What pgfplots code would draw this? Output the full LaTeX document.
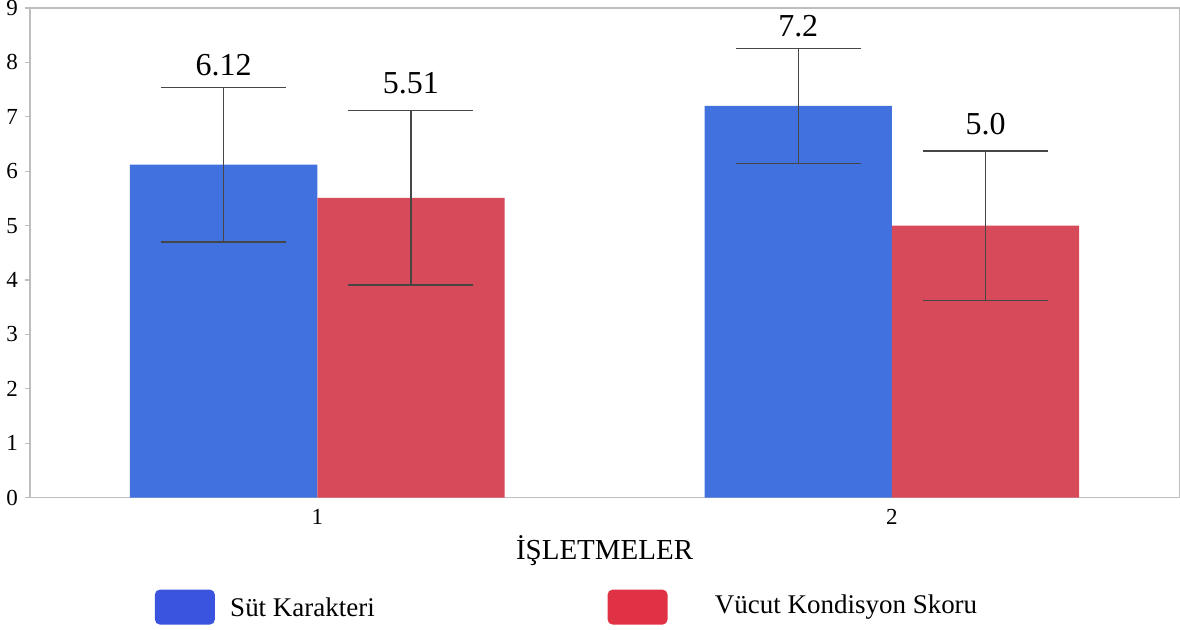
\documentclass[border=0pt]{standalone}
\usepackage{fontspec}
\setmainfont{Liberation Serif}
\usepackage{pgfplots}
\pgfplotsset{compat=1.18}
\usepackage{pgfplotstable}
\definecolor{barblue}{RGB}{65,113,223}
\definecolor{barred}{RGB}{214,74,90}
\definecolor{legblue}{RGB}{58,84,224}
\definecolor{legred}{RGB}{224,50,69}
\definecolor{axgray}{RGB}{190,190,190}
\definecolor{errgray}{RGB}{70,70,70}

\pgfplotstableread{
x y e top lab
0.837 6.12 1.42 7.54 6.12
1.837 7.2 1.06 8.26 7.2
}\bluedata
\pgfplotstableread{
x y e top lab
1.163 5.51 1.60 7.11 5.51
2.163 5.0 1.37 6.37 5.0
}\reddata

\begin{document}
\begin{tikzpicture}
\begin{axis}[
  scale only axis,
  width=575pt, height=245pt,
  xmin=0.5, xmax=2.5, ymin=0, ymax=9,
  xtick={1,2}, ytick={0,1,...,9},
  axis line style={axgray, line width=0.6pt},
  tick style={axgray, line width=0.6pt},
  xtick style={draw=none},
  tick pos=left,
  tick align=outside,
  major tick length=2.5pt,
  ticklabel style={font=\fontsize{11.5}{13}\selectfont, text=black},
  /pgf/number format/assume math mode=true,
  xlabel={İŞLETMELER},
  xlabel style={at={(axis description cs:0.5,0)}, anchor=north, yshift=-19pt, inner sep=0pt, font=\fontsize{14.5}{17}\selectfont},
]
\addplot[ybar, bar width=0.326, bar shift=0pt, fill=barblue, draw=none,
  error bars/.cd, y dir=both, y explicit, error mark=|,
  error bar style={errgray, line width=0.6pt},
  error mark options={errgray, line width=0.6pt, mark size=31.25pt}]
  table[x=x, y=y, y error=e]{\bluedata};
\addplot[ybar, bar width=0.326, bar shift=0pt, fill=barred, draw=none,
  error bars/.cd, y dir=both, y explicit, error mark=|,
  error bar style={errgray, line width=0.6pt},
  error mark options={errgray, line width=0.6pt, mark size=31.25pt}]
  table[x=x, y=y, y error=e]{\reddata};
\addplot[draw=none, mark=none, nodes near coords, point meta=explicit symbolic,
  nodes near coords style={anchor=base, yshift=6pt, inner sep=0pt, font=\fontsize{16}{18}\selectfont, text=black}]
  table[x=x, y=top, meta=lab]{\bluedata};
\addplot[draw=none, mark=none, nodes near coords, point meta=explicit symbolic,
  nodes near coords style={anchor=base, yshift=8.5pt, inner sep=0pt, font=\fontsize{16}{18}\selectfont, text=black}]
  table[x=x, y=top, meta=lab]{\reddata};
\end{axis}
\begin{scope}[shift={(current axis.south west)}]
\fill[legblue, rounded corners=2.5pt] (62.5pt,-63.5pt) rectangle (92.5pt,-46pt);
\node[anchor=west, inner sep=0pt, font=\fontsize{13.5}{16}\selectfont] at (100pt,-54.75pt) {Süt Karakteri};
\fill[legred, rounded corners=2.5pt] (289pt,-63.5pt) rectangle (319pt,-46pt);
\node[anchor=west, inner sep=0pt, font=\fontsize{13.5}{16}\selectfont] at (342.5pt,-54.75pt) {Vücut Kondisyon Skoru};
\end{scope}
\pgfresetboundingbox
\path[use as bounding box] ([shift={(-15pt,-66pt)}]current axis.south west) rectangle ([shift={(0.4pt,4pt)}]current axis.north east);
\end{tikzpicture}
\end{document}
